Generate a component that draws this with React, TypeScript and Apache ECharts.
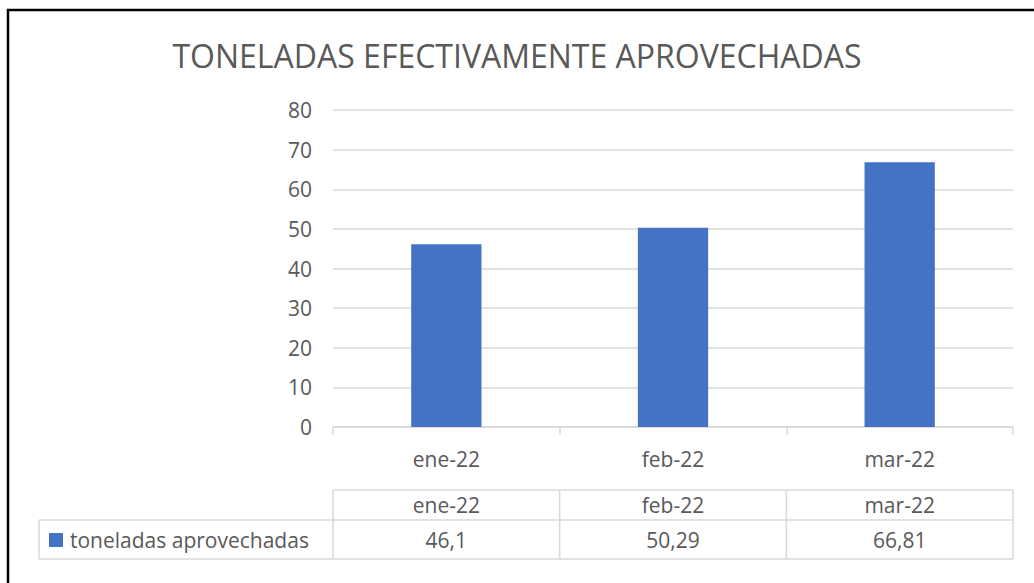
import React, { useEffect, useRef } from "react";
import * as echarts from "echarts";

const categories = ["ene-22", "feb-22", "mar-22"];
const values = [46.1, 50.29, 66.81];
const seriesName = "toneladas aprovechadas";
const titleText = "TONELADAS EFECTIVAMENTE APROVECHADAS";

const W = 1034;
const H = 583;
const GRID_LEFT = 333;
const GRID_RIGHT_X = 1013;
const GRID_TOP = 110;
const AXIS_Y = 427;
const FONT = "'Open Sans', sans-serif";
const TXT = "#595959";
const LINE = "#d9d9d9";
const BLUE = "#4472C4";
const LABEL_SIZE = 21;

export default function App() {
  const ref = useRef<HTMLDivElement>(null);
  useEffect(() => {
    if (!ref.current) return;
    const chart = echarts.init(ref.current, null, { renderer: "svg" });
    const n = categories.length;
    const cellW = (GRID_RIGHT_X - GRID_LEFT) / n;
    const rowTop = 490;
    const rowMid = 520;
    const rowBot = 559;
    const legendLeft = 39;
    const lines: any[] = [];
    const mkLine = (x1: number, y1: number, x2: number, y2: number) => ({
      type: "line",
      shape: { x1, y1, x2, y2 },
      style: { stroke: LINE, lineWidth: 1.5 },
      silent: true,
    });
    lines.push(mkLine(GRID_LEFT, rowTop, GRID_RIGHT_X, rowTop));
    lines.push(mkLine(legendLeft, rowMid, GRID_RIGHT_X, rowMid));
    lines.push(mkLine(legendLeft, rowBot, GRID_RIGHT_X, rowBot));
    lines.push(mkLine(legendLeft, rowMid, legendLeft, rowBot));
    for (let i = 0; i <= n; i++) {
      const x = GRID_LEFT + i * cellW;
      lines.push(mkLine(x, rowTop, x, rowBot));
    }
    const texts: any[] = [];
    categories.forEach((c, i) => {
      const cx = GRID_LEFT + (i + 0.5) * cellW;
      texts.push({
        type: "text",
        x: cx,
        y: (rowTop + rowMid) / 2,
        style: { text: c, font: `${LABEL_SIZE}px ${FONT}`, fill: TXT, align: "center", verticalAlign: "middle" },
      });
      texts.push({
        type: "text",
        x: cx,
        y: (rowMid + rowBot) / 2,
        style: {
          text: String(values[i]).replace(".", ","),
          font: `${LABEL_SIZE}px ${FONT}`,
          fill: TXT,
          align: "center",
          verticalAlign: "middle",
        },
      });
    });
    texts.push({
      type: "rect",
      shape: { x: 49, y: 533, width: 14, height: 14 },
      style: { fill: BLUE },
    });
    texts.push({
      type: "text",
      x: 70,
      y: (rowMid + rowBot) / 2,
      style: { text: seriesName, font: `${LABEL_SIZE}px ${FONT}`, fill: TXT, align: "left", verticalAlign: "middle" },
    });

    chart.setOption({
      animation: false,
      backgroundColor: "#ffffff",
      title: {
        text: titleText,
        left: "center",
        top: 34,
        textStyle: { fontFamily: FONT, fontSize: 32, fontWeight: "normal", color: TXT },
      },
      grid: {
        left: GRID_LEFT,
        right: W - GRID_RIGHT_X,
        top: GRID_TOP,
        bottom: H - AXIS_Y,
        containLabel: false,
      },
      xAxis: {
        type: "category",
        data: categories,
        axisLine: { lineStyle: { color: LINE, width: 1.5 } },
        axisTick: { show: true, length: 8, lineStyle: { color: LINE, width: 1.5 } },
        axisLabel: { color: TXT, fontFamily: FONT, fontSize: LABEL_SIZE, margin: 21 },
      },
      yAxis: {
        type: "value",
        min: 0,
        max: 80,
        interval: 10,
        axisLine: { show: false },
        axisTick: { show: false },
        axisLabel: { color: TXT, fontFamily: FONT, fontSize: LABEL_SIZE, margin: 21 },
        splitLine: { lineStyle: { color: LINE, width: 1.5 } },
      },
      series: [
        {
          name: seriesName,
          type: "bar",
          data: values,
          barWidth: "31%",
          itemStyle: { color: BLUE },
        },
      ],
      graphic: [
        ...lines,
        ...texts,
        {
          type: "rect",
          shape: { x: 8, y: 10, width: 1100, height: 700 },
          style: { fill: "none", stroke: "#000000", lineWidth: 2.5 },
          silent: true,
        },
      ],
    });
    return () => chart.dispose();
  }, []);
  return <div ref={ref} style={{ position: "fixed", left: 0, top: 0, width: W, height: H }} />;
}
